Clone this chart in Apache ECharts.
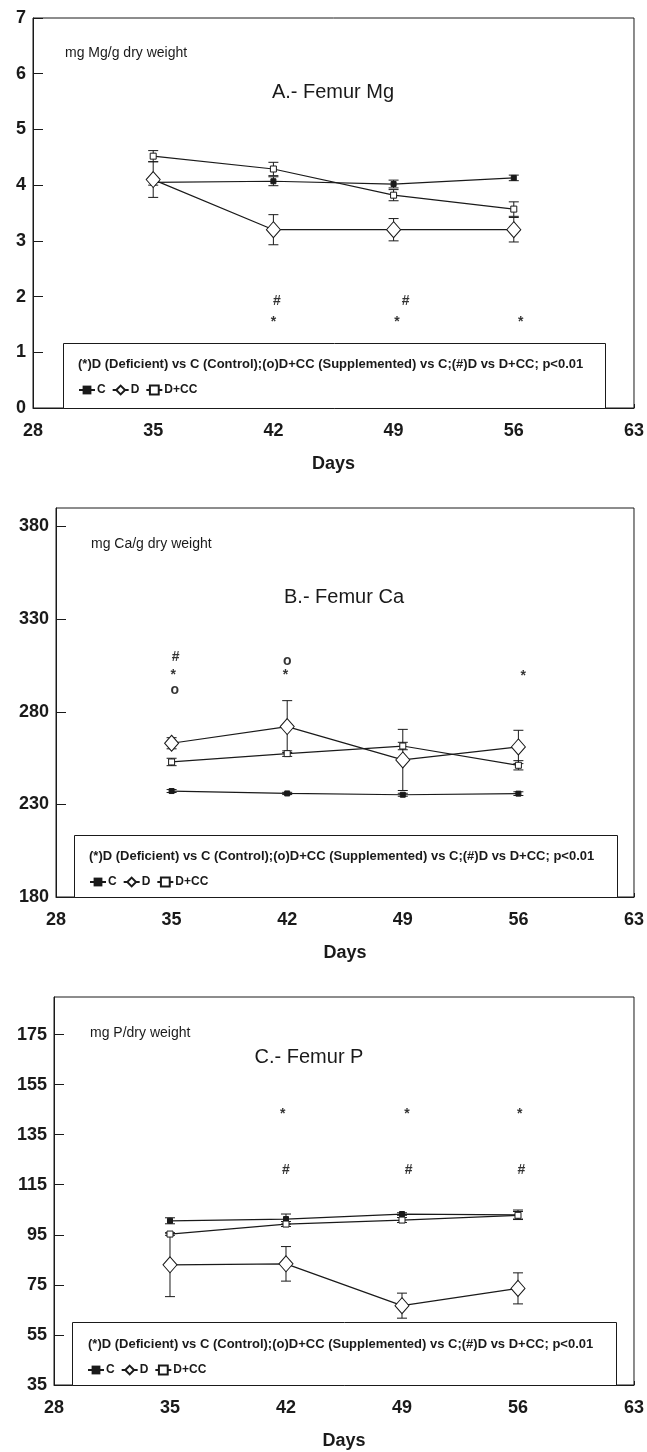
<!DOCTYPE html>
<html>
<head>
<meta charset="utf-8">
<script src="https://cdn.jsdelivr.net/npm/echarts@6.0.0/dist/echarts.min.js"></script>
<style>
  html, body { margin: 0; padding: 0; background: #fff; }
  #chart { width: 647px; height: 1452px; }
</style>
</head>
<body>
<div id="chart"></div>
<script>
// sampling days (x)
const days = [35, 42, 49, 56];
const xTicks = { min: 28, max: 63, interval: 7 };

// A.- Femur Mg (mg Mg/g dry weight)
const mgC = [4.05, 4.07, 4.02, 4.13];
const mgCErr = [0.05, 0.08, 0.07, 0.05];
const mgD = [4.1, 3.2, 3.2, 3.2];
const mgDErr = [0.32, 0.27, 0.2, 0.22];
const mgDCC = [4.52, 4.29, 3.82, 3.57];
const mgDCCErr = [0.1, 0.12, 0.1, 0.13];
const mgMarks = [[42.2, 1.92, '#'], [49.7, 1.92, '#'], [42, 1.54, '*'], [49.2, 1.54, '*'], [56.4, 1.54, '*']];

// B.- Femur Ca (mg Ca/g dry weight)
const caC = [237.2, 235.9, 235.2, 235.8];
const caCErr = [0.8, 0.6, 0.8, 1.0];
const caD = [263, 272, 254, 261];
const caDErr = [3, 14, 16.5, 9];
const caDCC = [252.9, 257.4, 261.5, 251.1];
const caDCCErr = [2, 1.5, 2, 2.5];
const caMarks = [[35.25, 309.3, '#'], [35.1, 299.9, '*'], [35.2, 291.6, 'o'], [42, 307.5, 'o'], [41.9, 299.7, '*'], [56.3, 299.4, '*']];

// C.- Femur P (mg P/dry weight)
const pC = [100.6, 101.3, 103.3, 103.0];
const pCErr = [1.2, 2, 0.5, 1.9];
const pD = [83.0, 83.4, 66.7, 73.6];
const pDErr = [12.7, 6.9, 5, 6.2];
const pDCC = [95.3, 99.3, 100.9, 102.8];
const pDCCErr = [0.5, 1, 1, 1.5];
const pMarks = [[41.8, 143.1, '*'], [49.3, 143.1, '*'], [56.1, 143.1, '*'], [42, 120.7, '#'], [49.4, 120.7, '#'], [56.2, 120.7, '#']];

// y axes
const yAxes = [
  { min: 0, max: 7, interval: 1 },
  { min: 180, max: 390, interval: 50 },
  { min: 35, max: 190, interval: 20 }
];

const footnote = '(*)D (Deficient) vs C (Control);(o)D+CC (Supplemented) vs C;(#)D vs D+CC; p<0.01';
const FONT = '"Liberation Sans", Arial, sans-serif';
const INK = '#1a1a1a';

const grids = [
  { left: 33, top: 18, width: 602, height: 390 },
  { left: 56, top: 508, width: 579, height: 389 },
  { left: 54, top: 997, width: 580, height: 388 }
];

function lineSeries(idx, name, vals, kind) {
  const s = {
    name: name,
    type: 'line',
    xAxisIndex: idx,
    yAxisIndex: idx,
    data: days.map((d, i) => [d, vals[i]]),
    lineStyle: { color: INK, width: 1.2 },
    z: 3
  };
  if (kind === 'C') {
    s.symbol = 'rect';
    s.symbolSize = 5;
    s.itemStyle = { color: INK, borderColor: INK };
  } else if (kind === 'D') {
    s.symbol = 'diamond';
    s.symbolSize = [14, 16];
    s.itemStyle = { color: '#fff', borderColor: INK, borderWidth: 1 };
  } else {
    s.symbol = 'rect';
    s.symbolSize = 6;
    s.itemStyle = { color: '#fff', borderColor: INK, borderWidth: 1 };
  }
  return s;
}

function errorSeries(idx, vals, errs) {
  return {
    type: 'custom',
    xAxisIndex: idx,
    yAxisIndex: idx,
    silent: true,
    z: 2,
    encode: { x: 0, y: [1, 2] },
    data: days.map((d, i) => [d, vals[i] - errs[i], vals[i] + errs[i]]),
    renderItem: function (params, api) {
      const lo = api.coord([api.value(0), api.value(1)]);
      const hi = api.coord([api.value(0), api.value(2)]);
      const w = 5;
      const st = { stroke: INK, lineWidth: 1 };
      return {
        type: 'group',
        children: [
          { type: 'line', shape: { x1: lo[0], y1: lo[1], x2: hi[0], y2: hi[1] }, style: st },
          { type: 'line', shape: { x1: lo[0] - w, y1: lo[1], x2: lo[0] + w, y2: lo[1] }, style: st },
          { type: 'line', shape: { x1: hi[0] - w, y1: hi[1], x2: hi[0] + w, y2: hi[1] }, style: st }
        ]
      };
    }
  };
}

function markSeries(idx, marks) {
  return {
    type: 'scatter',
    xAxisIndex: idx,
    yAxisIndex: idx,
    silent: true,
    symbolSize: 0,
    data: marks,
    label: {
      show: true,
      position: 'inside',
      formatter: p => p.value[2],
      color: '#000',
      fontFamily: FONT,
      fontSize: 14,
      fontWeight: 'bold'
    }
  };
}

const panels = [
  { C: mgC, Ce: mgCErr, D: mgD, De: mgDErr, X: mgDCC, Xe: mgDCCErr, marks: mgMarks },
  { C: caC, Ce: caCErr, D: caD, De: caDErr, X: caDCC, Xe: caDCCErr, marks: caMarks },
  { C: pC, Ce: pCErr, D: pD, De: pDErr, X: pDCC, Xe: pDCCErr, marks: pMarks }
];

const series = [];
panels.forEach((p, i) => {
  series.push(errorSeries(i, p.C, p.Ce));
  series.push(errorSeries(i, p.D, p.De));
  series.push(errorSeries(i, p.X, p.Xe));
  series.push(lineSeries(i, 'C', p.C, 'C'));
  series.push(lineSeries(i, 'D', p.D, 'D'));
  series.push(lineSeries(i, 'D+CC', p.X, 'X'));
  series.push(markSeries(i, p.marks));
});

const xAxis = grids.map((g, i) => ({
  type: 'value',
  gridIndex: i,
  min: xTicks.min,
  max: xTicks.max,
  interval: xTicks.interval,
  name: 'Days',
  nameLocation: 'middle',
  nameGap: 47,
  nameTextStyle: { fontFamily: FONT, fontSize: 18, fontWeight: 'bold', color: INK },
  axisLine: { lineStyle: { color: INK, width: 1 } },
  axisTick: { inside: true, length: 4, lineStyle: { color: INK } },
  axisLabel: { margin: 14, fontFamily: FONT, fontSize: 18, fontWeight: 'bold', color: INK },
  splitLine: { show: false }
}));

const yAxis = yAxes.map((a, i) => ({
  type: 'value',
  gridIndex: i,
  min: a.min,
  max: a.max,
  interval: a.interval,
  axisLine: { show: true, lineStyle: { color: INK, width: 1 } },
  axisTick: { show: true, inside: true, length: 10, lineStyle: { color: INK } },
  axisLabel: { showMaxLabel: i === 0, margin: 7, fontFamily: FONT, fontSize: 18, fontWeight: 'bold', color: INK },
  splitLine: { show: false }
}));

// legend boxes and panel captions
const boxes = [
  { x: 63, y: 343, w: 542, h: 65, tx: 78, ty: 364 },
  { x: 74, y: 835, w: 543, h: 62, tx: 89, ty: 856 },
  { x: 72, y: 1322, w: 544, h: 63, tx: 88, ty: 1344 }
];
const captions = [
  { unit: 'mg Mg/g dry weight', ux: 65, uy: 53, title: 'A.- Femur Mg', tx: 333, ty: 92 },
  { unit: 'mg Ca/g dry weight', ux: 91, uy: 544, title: 'B.- Femur Ca', tx: 344, ty: 597 },
  { unit: 'mg P/dry weight', ux: 90, uy: 1033, title: 'C.- Femur P', tx: 309, ty: 1057 }
];

const graphic = [];
boxes.forEach(b => {
  graphic.push({
    type: 'rect', silent: true, z: 5,
    shape: { x: b.x + 0.5, y: b.y + 0.5, width: b.w, height: b.h },
    style: { fill: '#fff', stroke: INK, lineWidth: 1 }
  });
  graphic.push({
    type: 'text', silent: true, z: 6,
    style: { text: footnote, x: b.tx, y: b.ty, font: 'bold 13px ' + FONT, fill: INK, verticalAlign: 'middle' }
  });
});
captions.forEach(c => {
  graphic.push({
    type: 'text', silent: true,
    style: { text: c.unit, x: c.ux, y: c.uy, font: '14px ' + FONT, fill: INK, verticalAlign: 'middle' }
  });
  graphic.push({
    type: 'text', silent: true,
    style: { text: c.title, x: c.tx, y: c.ty, font: '20px ' + FONT, fill: INK, align: 'center', verticalAlign: 'middle' }
  });
});

const legend = boxes.map(b => ({
  data: ['C', 'D', 'D+CC'],
  left: b.x + 10,
  top: b.ty + 15,
  z: 7,
  itemWidth: 16,
  itemHeight: 11,
  itemGap: 6,
  selectedMode: false,
  textStyle: { fontFamily: FONT, fontSize: 12, fontWeight: 'bold', color: INK, padding: [0, 0, 0, -3] }
}));

const chart = echarts.init(document.getElementById('chart'), null, { renderer: 'canvas' });
chart.setOption({
  backgroundColor: '#fff',
  animation: false,
  grid: grids.map(g => Object.assign({ show: true, borderColor: INK, borderWidth: 1 }, g)),
  xAxis: xAxis,
  yAxis: yAxis,
  legend: legend,
  graphic: graphic,
  series: series
});
</script>
</body>
</html>
